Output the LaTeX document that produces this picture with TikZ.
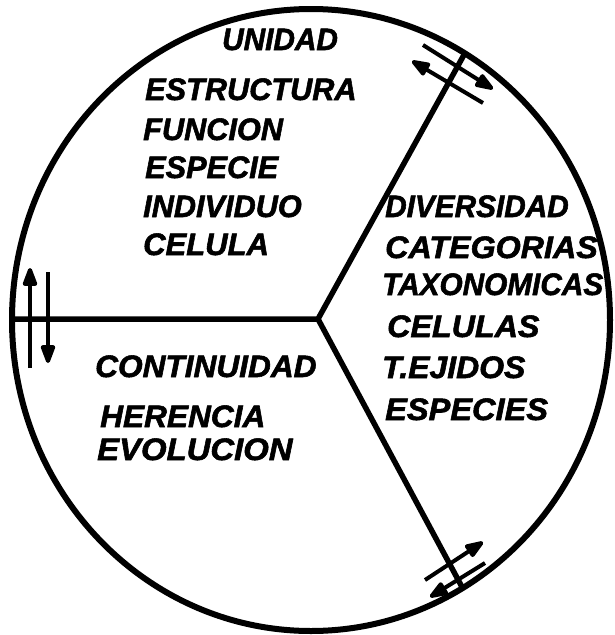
\documentclass[tikz,border=0pt]{standalone}
\usepackage{fontspec}
\setmainfont{Liberation Sans}
\newfontface\inkfont{Liberation Sans Bold Italic}[FakeBold=1.8]
\usetikzlibrary{arrows.meta}
\tikzset{
  lbl/.style={anchor=base west, inner sep=0pt, font=\fontsize{31}{36}\selectfont\inkfont},
  rim/.style={line width=6pt},
  spoke/.style={line width=5.5pt},
  arr/.style={line width=4pt, -{Triangle[length=22pt,width=15pt,round]}},
}
\newcommand{\sx}[2]{\scalebox{#1}[1]{#2}}
\begin{document}
\begin{tikzpicture}[x=1pt,y=-1pt]
\useasboundingbox (0,0) rectangle (615,635);
\fill[white] (0,0) rectangle (615,635);
% circle
\draw[rim] (311,320) ellipse [x radius=299pt, y radius=311pt];
% spokes
\coordinate (hub) at (318,319);
\coordinate (pl) at (13,319);
\coordinate (pu) at (465,53);
\coordinate (pd) at (462,587);
\draw[spoke, line join=miter] (pl) -- (hub) -- (pu);
\draw[spoke] (hub) -- (pd);
% top right arrows
\coordinate (a1s) at (423,45);  \coordinate (a1e) at (493,89);
\coordinate (a2s) at (483,103); \coordinate (a2e) at (412,61);
\draw[arr] (a1s) -- (a1e);
\draw[arr] (a2s) -- (a2e);
% left arrows
\coordinate (b1s) at (30,368); \coordinate (b1e) at (30,268);
\coordinate (b2s) at (48,272); \coordinate (b2e) at (48,363);
\draw[arr] (b1s) -- (b1e);
\draw[arr] (b2s) -- (b2e);
% bottom right arrows
\coordinate (c1s) at (425,580); \coordinate (c1e) at (483,542);
\coordinate (c2s) at (485,563); \coordinate (c2e) at (430,597);
\draw[arr] (c1s) -- (c1e);
\draw[arr] (c2s) -- (c2e);
% upper sector
\node[lbl] (u1) at (222,50) {\sx{0.96}{UNIDAD}};
\node[lbl] (u2) at (145,100) {\sx{0.99}{ESTRUCTURA}};
\node[lbl] (u3) at (143,140) {\sx{0.99}{FUNCION}};
\node[lbl] (u4) at (145,178) {\sx{0.99}{ESPECIE}};
\node[lbl] (u5) at (143,217) {\sx{0.99}{INDIVIDUO}};
\node[lbl] (u6) at (143,255) {\sx{1.0}{CELULA}};
% right sector
\node[lbl] (r1) at (385,217) {\sx{0.96}{DIVERSIDAD}};
\node[lbl] (r2) at (385,258) {\sx{1.04}{CATEGORIAS}};
\node[lbl] (r3) at (382,295) {\sx{0.96}{TAXONOMICAS}};
\node[lbl] (r4) at (387,337) {\sx{1.04}{CELULAS}};
\node[lbl] (r5) at (382,378) {\sx{1.03}{T.EJIDOS}};
\node[lbl] (r6) at (385,420) {\sx{1.05}{ESPECIES}};
% lower left sector
\node[lbl] (l1) at (95,377) {\sx{1.02}{CONTINUIDAD}};
\node[lbl] (l2) at (100,427) {\sx{1.02}{HERENCIA}};
\node[lbl] (l3) at (97,460) {\sx{1.06}{EVOLUCION}};
\end{tikzpicture}
\end{document}
